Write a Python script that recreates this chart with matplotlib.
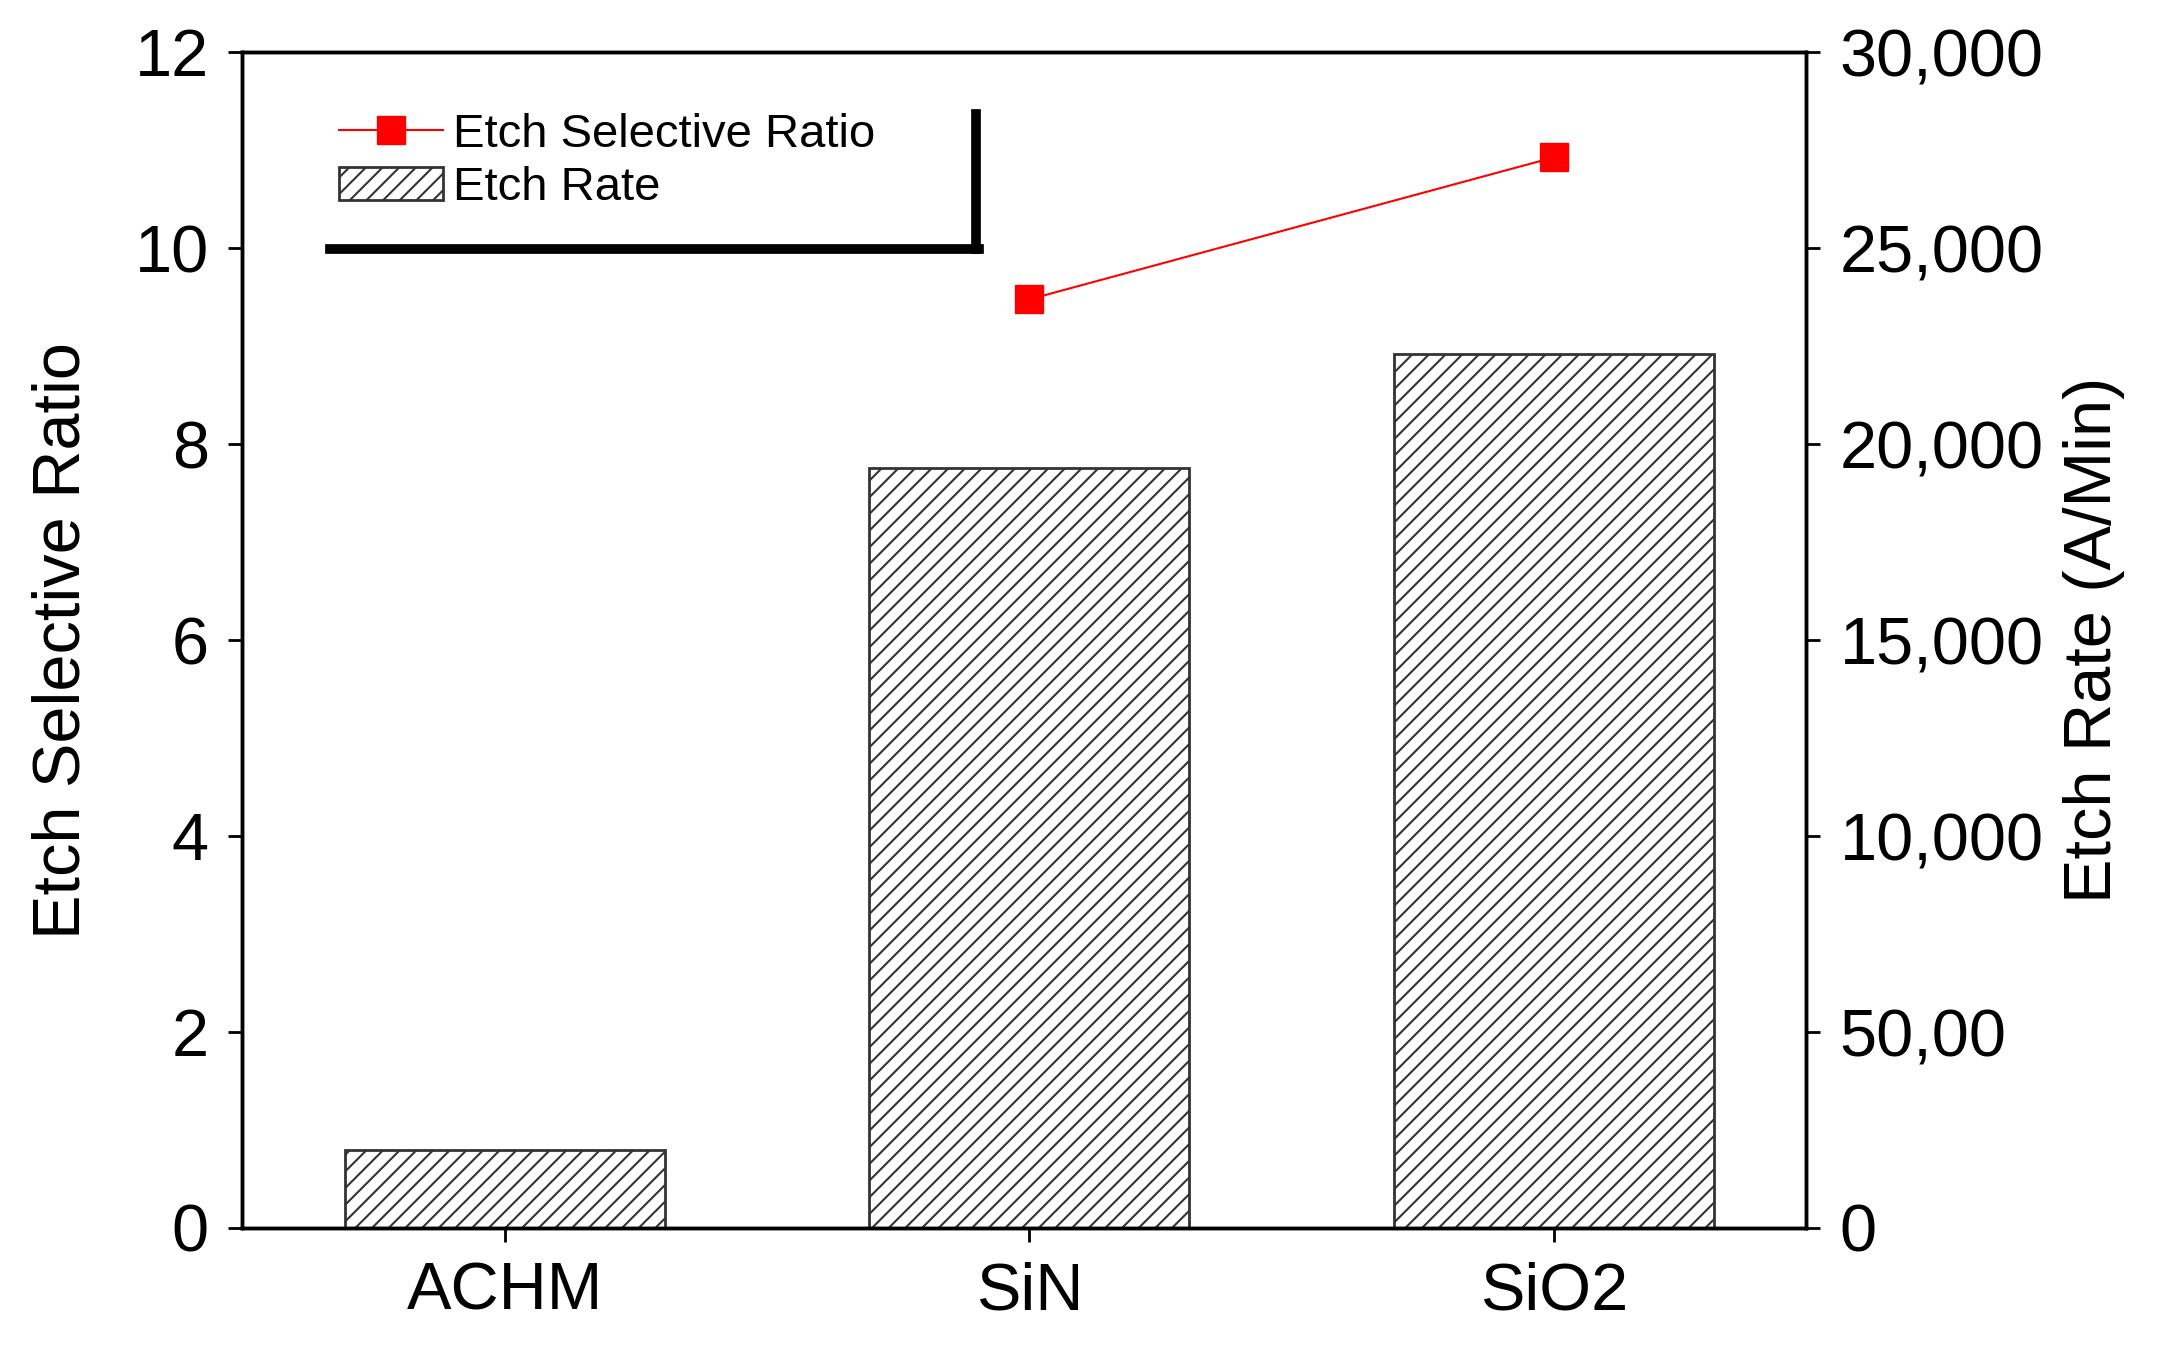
import matplotlib
matplotlib.use("Agg")
import matplotlib.pyplot as plt
from matplotlib.lines import Line2D

plt.rcParams['font.family'] = ['Liberation Sans', 'DejaVu Sans']
plt.rcParams['hatch.linewidth'] = 1.5

categories = ["ACHM", "SiN", "SiO2"]
etch_rate = [2000, 19400, 22300]
sel_cats = ["SiN", "SiO2"]
sel_ratio = [9.48, 10.93]
right_ticks = [0, 5000, 10000, 15000, 20000, 25000, 30000]
right_labels = ["0", "50,00", "10,000", "15,000", "20,000", "25,000", "30,000"]

fig = plt.figure(figsize=(21.63, 13.45), dpi=100)
ax = fig.add_axes([0.112, 0.087, 0.723, 0.874])
ax2 = ax.twinx()
ax.set_zorder(2); ax.patch.set_visible(False)

xpos = {c: i for i, c in enumerate(categories)}
bars = ax2.bar([xpos[c] for c in categories], etch_rate, width=0.61, facecolor='white',
               edgecolor='#333333', hatch='//', linewidth=2, label='Etch Rate')
ax2.set_ylim(0, 30000)
ax2.set_yticks(right_ticks)
ax2.set_yticklabels(right_labels)
ax2.set_ylabel("Etch Rate (A/Min)", fontsize=48, labelpad=14)

line, = ax.plot([xpos[c] for c in sel_cats], sel_ratio, color='red', lw=1.5, marker='s',
                markersize=20, label='Etch Selective Ratio')
ax.set_ylim(0, 12)
ax.set_xlim(-0.5, 2.48)
ax.set_xticks(range(len(categories)))
ax.set_xticklabels(categories)
ax.set_yticks(range(0, 13, 2))
ax.set_ylabel("Etch Selective Ratio", fontsize=48, labelpad=30)

for a in (ax, ax2):
    a.tick_params(labelsize=48, width=2, length=10, direction='out', pad=14)
    for s in a.spines.values():
        s.set_linewidth(2.5)

ax.legend([line, bars], ['Etch Selective Ratio', 'Etch Rate'], loc='upper left',
          bbox_to_anchor=(0.035, 0.985), frameon=False, fontsize=34, handlelength=2.2,
          handletextpad=0.2, labelspacing=0.2)
ax.add_line(Line2D([0.056, 0.471], [0.833, 0.833], transform=ax.transAxes, color='black', lw=7))
ax.add_line(Line2D([0.469, 0.469], [0.833, 0.948], transform=ax.transAxes, color='black', lw=7))

fig.savefig("out.png", dpi=100)
